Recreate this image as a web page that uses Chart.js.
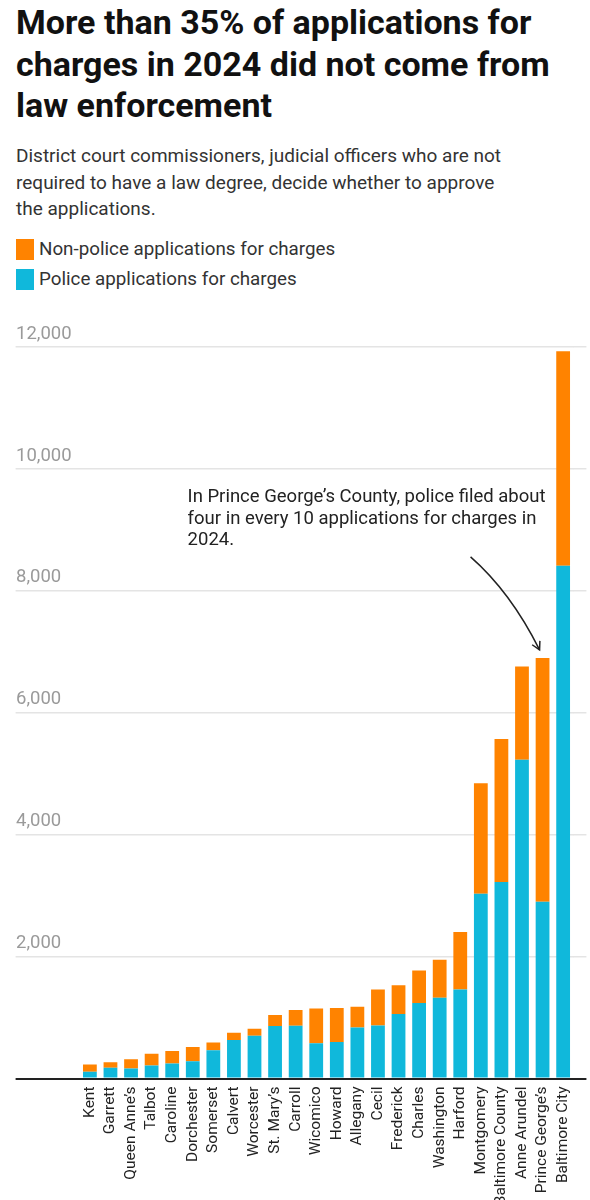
<!DOCTYPE html>
<html lang="en">
<head>
    <meta charset="UTF-8">
    <meta name="viewport" content="width=device-width, initial-scale=1.0">
    <title>Applications for charges in 2024</title>
    <script src="https://cdn.jsdelivr.net/npm/chart.js"></script>
    <style>
        body { margin: 0; background: #fff; font-family: Roboto, "Noto Sans", sans-serif; }
        .page { position: relative; width: 590px; height: 1200px; overflow: hidden; }
        h1 { position: absolute; left: 16px; top: 2px; margin: 0; font-size: 34px; line-height: 41.5px; font-weight: 700; color: #111; white-space: nowrap; }
        .sub { position: absolute; left: 16px; top: 143px; margin: 0; font-size: 19px; line-height: 26.5px; color: #333; white-space: nowrap; }
        .legend { position: absolute; left: 16px; top: 239px; }
        .legend .item { display: flex; height: 30px; font-size: 18.8px; line-height: 21px; color: #333; }
        .legend .box { width: 18px; height: 21px; margin-right: 5px; }
        .chart-wrap { position: absolute; left: 0; top: 300px; width: 590px; height: 900px; }
    </style>
</head>
<body>
<div class="page">
    <h1>More than 35% of applications for<br>charges in 2024 did not come from<br>law enforcement</h1>
    <p class="sub">District court commissioners, judicial officers who are not<br>required to have a law degree, decide whether to approve<br>the applications.</p>
    <div class="legend" id="legend"></div>
    <div class="chart-wrap"><canvas id="chargesChart"></canvas></div>
</div>

<script>
    // Counties, smallest to largest total
    const counties = ['Kent', 'Garrett', 'Queen Anne\u2019s', 'Talbot', 'Caroline', 'Dorchester', 'Somerset',
        'Calvert', 'Worcester', 'St. Mary\u2019s', 'Carroll', 'Wicomico', 'Howard', 'Allegany', 'Cecil',
        'Frederick', 'Charles', 'Washington', 'Harford', 'Montgomery', 'Baltimore County', 'Anne Arundel',
        'Prince George\u2019s', 'Baltimore City'];

    // Applications for charges
    const policeApps = [110, 175, 165, 215, 245, 285, 465, 630, 700, 860, 865, 580, 600, 835, 870,
        1060, 1240, 1325, 1460, 3030, 3225, 5230, 2900, 8410];
    const nonPoliceApps = [120, 90, 150, 190, 205, 230, 125, 120, 115, 180, 260, 570, 555, 340, 590,
        470, 530, 625, 945, 1815, 2345, 1530, 4000, 3520];

    const seriesNames = ['Police applications for charges', 'Non-police applications for charges'];
    const seriesColors = ['#10b8db', '#ff8300'];

    const yTickLabels = ['', '2,000', '4,000', '6,000', '8,000', '10,000', '12,000'];

    const noteLines = ['In Prince George\u2019s County, police filed about',
        'four in every 10 applications for charges in', '2024.'];
    const noteCounty = 'Prince George\u2019s';

    // Legend, non-police on top like the stacks
    const legendEl = document.getElementById('legend');
    [1, 0].forEach(i => {
        const row = document.createElement('div');
        row.className = 'item';
        row.innerHTML = '<span class="box" style="background:' + seriesColors[i] + '"></span>' + seriesNames[i];
        legendEl.appendChild(row);
    });

    const gridColor = c => (c.tick && c.tick.value === 0) ? '#222' : '#e4e4e4';
    const gridWidth = c => (c.tick && c.tick.value === 0) ? 2 : 1.5;

    // Callout text and curved arrow pointing at Prince George's
    const notePlugin = {
        id: 'note',
        afterDatasetsDraw(chart) {
            const { ctx, scales: { x, y }, chartArea } = chart;
            const idx = counties.indexOf(noteCounty);
            const total = policeApps[idx] + nonPoliceApps[idx];
            ctx.save();
            ctx.fillStyle = '#222';
            ctx.font = '18.5px Roboto';
            ctx.textBaseline = 'alphabetic';
            const tx = chartArea.left + 108;
            const ty = y.getPixelForValue(9450);
            noteLines.forEach((line, i) => ctx.fillText(line, tx, ty + i * 21.5));

            const ex = x.getPixelForValue(idx) - 3;
            const ey = y.getPixelForValue(total) - 8;
            const sx = ex - 69, sy = ey - 93;
            const cx = ex - 29, cy = ey - 58;
            ctx.strokeStyle = '#222';
            ctx.lineWidth = 1.5;
            ctx.beginPath();
            ctx.moveTo(sx, sy);
            ctx.quadraticCurveTo(cx, cy, ex, ey);
            ctx.stroke();
            const ang = Math.atan2(ey - cy, ex - cx);
            ctx.beginPath();
            ctx.moveTo(ex - 9 * Math.cos(ang - 0.5), ey - 9 * Math.sin(ang - 0.5));
            ctx.lineTo(ex, ey);
            ctx.lineTo(ex - 9 * Math.cos(ang + 0.5), ey - 9 * Math.sin(ang + 0.5));
            ctx.stroke();
            ctx.restore();
        }
    };

    new Chart(document.getElementById('chargesChart'), {
        type: 'bar',
        data: {
            labels: counties,
            datasets: [0, 1].map(i => ({
                label: seriesNames[i],
                data: i === 0 ? policeApps : nonPoliceApps,
                backgroundColor: seriesColors[i],
                borderWidth: 0,
                categoryPercentage: 1,
                barPercentage: 0.67
            }))
        },
        options: {
            responsive: true,
            maintainAspectRatio: false,
            animation: false,
            layout: { padding: { left: 16, top: 47, right: 0, bottom: 0 } },
            plugins: { legend: { display: false }, tooltip: { enabled: false } },
            scales: {
                x: {
                    stacked: true,
                    grid: { display: false, drawTicks: false },
                    border: { display: false },
                    ticks: {
                        autoSkip: false, minRotation: 90, maxRotation: 90, padding: 8,
                        color: '#222', font: { family: 'Roboto', size: 15.5 }
                    },
                    afterFit: s => { s.height = 121.5; }
                },
                y: {
                    stacked: true,
                    position: 'left',
                    min: 0, max: 12000,
                    ticks: {
                        stepSize: 2000, crossAlign: 'far', labelOffset: -13, padding: 0,
                        color: '#9a9a9a', font: { family: 'Roboto', size: 18.5 },
                        callback: (v, i) => yTickLabels[i]
                    },
                    grid: { color: gridColor, lineWidth: gridWidth, tickLength: 64 },
                    border: { display: false },
                    afterFit: s => { s.width = 63.6; }
                },
                y2: {
                    display: true,
                    position: 'right',
                    min: 0, max: 12000,
                    ticks: { stepSize: 2000, display: false },
                    grid: { drawOnChartArea: false, color: gridColor, lineWidth: gridWidth, tickLength: 13 },
                    border: { display: false },
                    afterFit: s => { s.width = 12.7; }
                }
            }
        },
        plugins: [notePlugin]
    });
</script>
</body>
</html>
